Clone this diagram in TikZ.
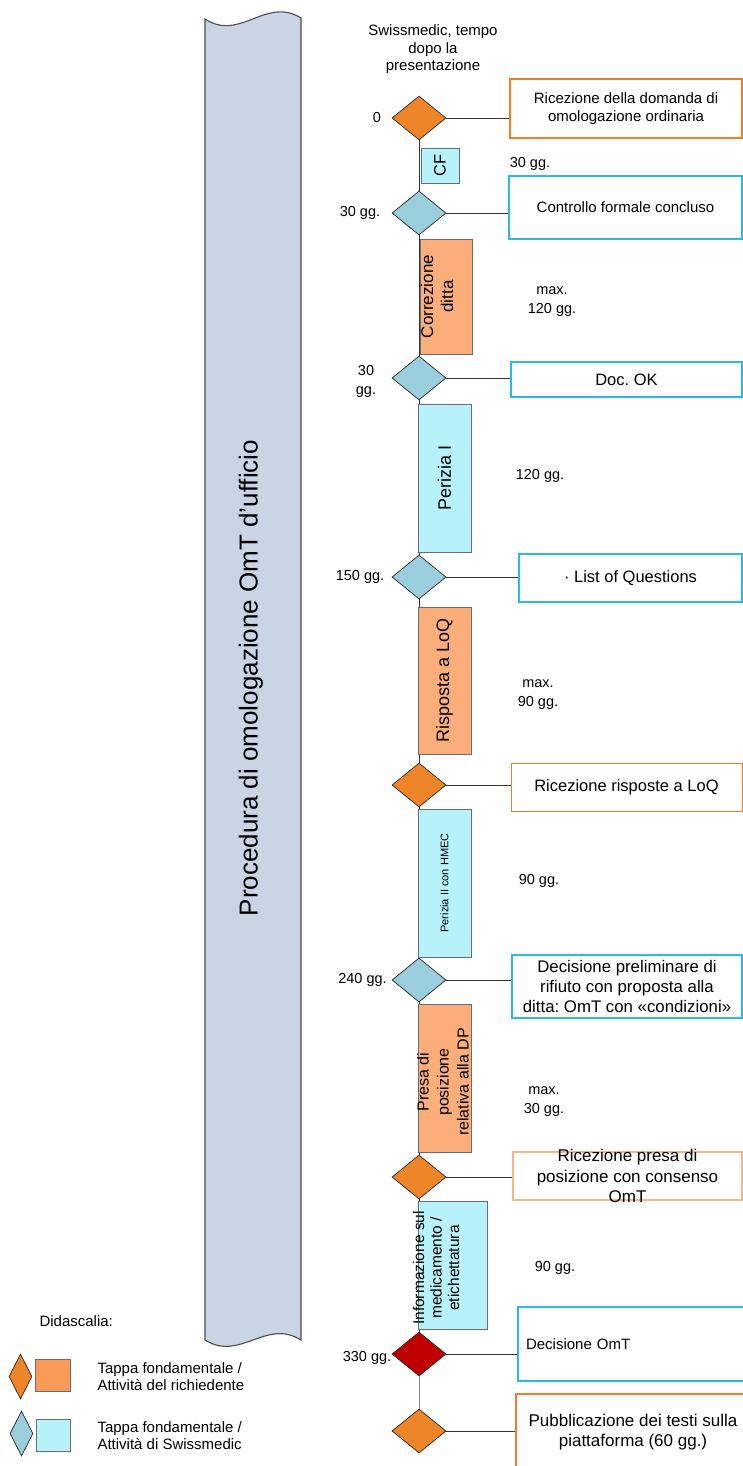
\documentclass[tikz,border=0pt]{standalone}
\usepackage{fontspec}
\setmainfont{Liberation Sans}
\usetikzlibrary{shapes.geometric,positioning}
\frenchspacing

\definecolor{keyorange}{HTML}{EF8529}
\definecolor{keyblue}{HTML}{9BCEDC}
\definecolor{keyred}{HTML}{C00000}
\definecolor{actorange}{HTML}{FBAE7A}
\definecolor{legorange}{HTML}{F99B56}
\definecolor{actblue}{HTML}{B7F1F9}
\definecolor{bannerfill}{HTML}{C9D5E4}
\definecolor{lineorange}{HTML}{F47B2A}
\definecolor{lightorange}{HTML}{F9B48A}
\definecolor{lineblue}{HTML}{2DB7EA}
\definecolor{actline}{HTML}{646E78}

\begin{document}
\begin{tikzpicture}[
        %Environment config
        x=1pt, y=-1pt,
        font=\fontsize{15}{18}\selectfont,
        %Environment styles
        KeyCfg/.style={
            diamond,
            draw=black!85,
            line width=0.7pt,
            inner sep=0pt,
            minimum width=54pt,
            minimum height=44pt
        },
        ActCfg/.style={
            draw=actline,
            line width=0.9pt,
            rotate=90,
            align=center,
            inner sep=0pt
        },
        BoxCfg/.style={
            draw,
            fill=white,
            align=center,
            inner sep=0pt
        },
        DayCfg/.style={
            font=\fontsize{14.5}{19}\selectfont,
            align=center
        },
        LinkCfg/.style={
            draw=black!80,
            line width=0.8pt
        }
    ]
    \useasboundingbox (0,0) rectangle (743,1466);

    % banner on the left
    \draw[draw=black!70, line width=1.1pt, fill=bannerfill]
        (205,19) .. controls (240,42) and (266,-4) .. (301,18)
        -- (301,1340) .. controls (266,1318) and (240,1362) .. (205,1340)
        -- cycle;
    \node[rotate=90, font=\fontsize{26}{30}\selectfont] (title) at (251,678)
        {Procedura di omologazione OmT d’ufficio};

    \node[align=center, font=\fontsize{15}{17.5}\selectfont] (head) at (433,49.5)
        {Swissmedic, tempo\\dopo la\\presentazione};

    % milestones
    \path
        (419,118) node[KeyCfg, fill=keyorange](K0){}
        (419,213) node[KeyCfg, fill=keyblue](K1){}
        (419,378) node[KeyCfg, fill=keyblue](K2){}
        (419,577) node[KeyCfg, fill=keyblue](K3){}
        (419,785) node[KeyCfg, fill=keyorange](K4){}
        (419,980) node[KeyCfg, fill=keyblue](K5){}
        (419,1177) node[KeyCfg, fill=keyorange](K6){}
        (419,1354) node[KeyCfg, fill=keyred](K7){}
        (419,1431) node[KeyCfg, fill=keyorange](K8){};

    % time line
    \draw[LinkCfg]
        (K0.south) -- (K1.north)
        (K1.south) -- (K2.north)
        (K2.south) -- (K3.north)
        (K3.south) -- (K4.north)
        (K4.south) -- (K5.north)
        (K5.south) -- (K6.north)
        (K6.south) -- (K7.north);
    \draw[draw=black!45, line width=0.8pt] (K7.south) -- (K8.north);

    % activities
    \path
        (440,165.5) node[ActCfg, fill=actblue, minimum width=35pt, minimum height=38pt,
            font=\fontsize{16.5}{20}\selectfont](A0){CF}
        (446,296.5) node[ActCfg, fill=actorange, minimum width=115pt, minimum height=52pt](A1){}
        (444.5,478) node[ActCfg, fill=actblue, minimum width=148pt, minimum height=53pt,
            font=\fontsize{18}{20}\selectfont](A2){Perizia I}
        (444.5,680.5) node[ActCfg, fill=actorange, minimum width=147pt, minimum height=53pt,
            font=\fontsize{18}{20}\selectfont](A3){Risposta a LoQ}
        (444.5,883) node[ActCfg, fill=actblue, minimum width=148pt, minimum height=53pt,
            font=\fontsize{11}{13}\selectfont](A4){Perizia II con HMEC}
        (444.5,1078) node[ActCfg, fill=actorange, minimum width=148pt, minimum height=53pt](A5){}
        (452.5,1265) node[ActCfg, fill=actblue, minimum width=128pt, minimum height=69pt](A6){};
    \node[rotate=90, align=center, font=\fontsize{17}{20}\selectfont] (A1text) at (437,296.5)
        {Correzione\\ditta};
    \node[rotate=90, align=center, font=\fontsize{16}{20}\selectfont] (A5text) at (443,1082)
        {Presa di\\posizione\\relativa alla DP};
    \node[rotate=90, align=center, font=\fontsize{15.5}{17.5}\selectfont] (A6text) at (436,1268)
        {Informazione sul\\medicamento /\\etichettatura};

    % events
    \path
        (626,108.5) node[BoxCfg, draw=lineorange, line width=2pt, minimum width=232pt, minimum height=59pt](B0)
            {Ricezione della domanda di\\omologazione ordinaria}
        (625.5,207.5) node[BoxCfg, draw=lineblue, line width=1.2pt, minimum width=233pt, minimum height=63pt](B1)
            {Controllo formale concluso}
        (626.5,379.5) node[BoxCfg, draw=lineblue, line width=1.2pt, minimum width=231pt, minimum height=35pt,
            font=\fontsize{16.5}{20}\selectfont](B2)
            {Doc. OK}
        (630.5,578) node[BoxCfg, draw=lineblue, line width=1.2pt, minimum width=223pt, minimum height=48pt,
            font=\fontsize{16.5}{20}\selectfont](B3)
            {\textperiodcentered\ List of Questions}
        (626.5,787) node[BoxCfg, draw=lineorange, line width=1pt, minimum width=231pt, minimum height=48pt,
            font=\fontsize{16.5}{20}\selectfont](B4)
            {Ricezione risposte a LoQ}
        (627,986.5) node[BoxCfg, draw=lineblue, line width=1.2pt, minimum width=230pt, minimum height=63pt,
            font=\fontsize{16.8}{20}\selectfont](B5)
            {Decisione preliminare di\\rifiuto con proposta alla\\ditta: OmT con «condizioni»}
        (627.5,1176) node[BoxCfg, draw=lightorange, line width=1.2pt, minimum width=229pt, minimum height=48pt](B6){}
        (639,1344) node[BoxCfg, draw=lineblue, line width=1.2pt, minimum width=242pt, minimum height=74pt,
            text width=226pt, align=left](B7)
            {Decisione OmT}
        (633,1432) node[BoxCfg, draw=lineorange, line width=2pt, minimum width=234pt, minimum height=76pt,
            font=\fontsize{17}{20}\selectfont](B8)
            {Pubblicazione dei testi sulla\\piattaforma (60 gg.)};
    \node[align=center, font=\fontsize{17}{20.5}\selectfont] (B6text) at (627.5,1176)
        {Ricezione presa di\\posizione con consenso\\OmT};

    \draw[LinkCfg]
        (K0.east) -- (K0.east -| B0.west)
        (K1.east) -- (K1.east -| B1.west)
        (K2.east) -- (K2.east -| B2.west)
        (K3.east) -- (K3.east -| B3.west)
        (K4.east) -- (K4.east -| B4.west)
        (K5.east) -- (K5.east -| B5.west)
        (K6.east) -- (K6.east -| B6.west)
        (K7.east) -- (K7.east -| B7.west)
        (K8.east) -- (K8.east -| B8.west);

    % times after submission
    \path
        (377,118) node[DayCfg](T0){0}
        (360,213) node[DayCfg](T1){30 gg.}
        (366,381) node[DayCfg](T2){30\\gg.}
        (360,577) node[DayCfg](T3){150 gg.}
        (362.5,980) node[DayCfg](T5){240 gg.}
        (367,1358) node[DayCfg](T7){330 gg.};

    % durations
    \path
        (530,164) node[DayCfg](D0){30 gg.}
        (552,302) node[DayCfg](D1){max.\\120 gg.}
        (540,476) node[DayCfg](D2){120 gg.}
        (538,695) node[DayCfg](D3){max.\\90 gg.}
        (539,881) node[DayCfg](D4){90 gg.}
        (544,1102) node[DayCfg](D5){max.\\30 gg.}
        (555,1268) node[DayCfg](D6){90 gg.};

    % legend
    \node[anchor=west] (legtitle) at (36,1321) {Didascalia:};
    \path
        (20.5,1376.5) node[KeyCfg, fill=keyorange, minimum width=23pt, minimum height=45pt](L0){}
        (52.5,1375) node[draw=actline, line width=0.9pt, fill=legorange, minimum width=35pt, minimum height=32pt](L1){}
        (21.5,1433.5) node[KeyCfg, fill=keyblue, minimum width=23pt, minimum height=45pt](L2){}
        (53,1435) node[draw=actline, line width=0.9pt, fill=actblue, minimum width=34pt, minimum height=32pt](L3){};
    \node[anchor=west, align=left, font=\fontsize{15}{17}\selectfont] (L1text) at (94,1376.5)
        {Tappa fondamentale /\\Attività del richiedente};
    \node[anchor=west, align=left, font=\fontsize{15}{17}\selectfont] (L3text) at (94,1435.5)
        {Tappa fondamentale /\\Attività di Swissmedic};
\end{tikzpicture}
\end{document}
